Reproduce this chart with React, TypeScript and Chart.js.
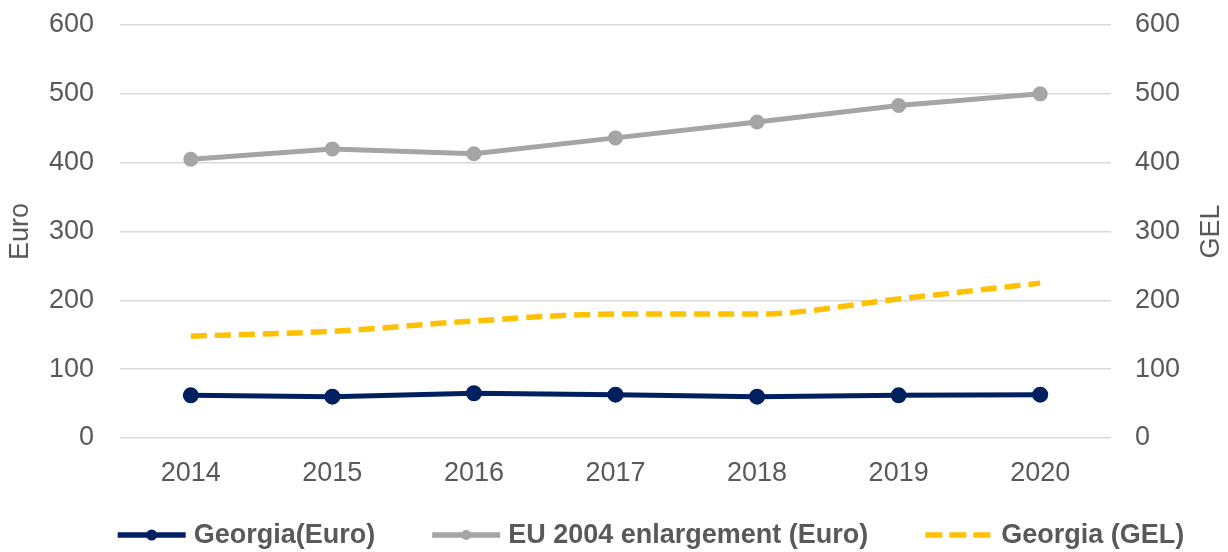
import React, { useEffect, useRef } from 'react';
import { Chart, registerables } from 'chart.js';

Chart.register(...registerables);

const categories = ['2014', '2015', '2016', '2017', '2018', '2019', '2020'];
const georgiaEuro = [62, 60, 65, 63, 60, 62, 63];
const euEnlargement = [405, 420, 413, 436, 459, 483, 500];
const georgiaGel = [148, 155, 170, 180, 180, 202, 225];
const seriesLabels = ['Georgia(Euro)', 'EU 2004 enlargement (Euro)', 'Georgia (GEL)'];
const leftTitle = 'Euro';
const rightTitle = 'GEL';

const TEXT = '#595959';
const FONT = '"Liberation Sans", Arial, sans-serif';

const customPlugin = {
  id: 'customDecor',
  afterDraw(chart: any) {
    const ctx = chart.ctx as CanvasRenderingContext2D;
    const area = chart.chartArea;
    ctx.save();
    ctx.fillStyle = TEXT;
    ctx.font = `27px ${FONT}`;
    ctx.textAlign = 'center';
    ctx.textBaseline = 'middle';
    ctx.translate(1212, (area.top + area.bottom) / 2);
    ctx.rotate(-Math.PI / 2);
    ctx.fillText(rightTitle, 0, 0);
    ctx.restore();

    // legend
    ctx.save();
    ctx.font = `bold 27px ${FONT}`;
    const lineLen = 68;
    const textGap = 8;
    const itemGap = 57;
    const widths = chart.data.datasets.map((d: any) => ctx.measureText(d.label).width);
    let total = 0;
    widths.forEach((w: number, i: number) => {
      total += lineLen + textGap + w + (i < widths.length - 1 ? itemGap : 0);
    });
    let x = 651 - total / 2;
    const y = 535;
    chart.data.datasets.forEach((d: any, i: number) => {
      ctx.save();
      ctx.strokeStyle = d.borderColor;
      ctx.lineWidth = 5.5;
      ctx.setLineDash(d.borderDash ? [17, 7] : []);
      ctx.beginPath();
      ctx.moveTo(x, y);
      ctx.lineTo(x + lineLen, y);
      ctx.stroke();
      ctx.setLineDash([]);
      if (d.pointRadius > 0) {
        ctx.fillStyle = d.pointBackgroundColor;
        ctx.beginPath();
        ctx.arc(x + lineLen / 2, y, d.pointRadius, 0, Math.PI * 2);
        ctx.fill();
      }
      ctx.restore();
      ctx.fillStyle = TEXT;
      ctx.textAlign = 'left';
      ctx.textBaseline = 'middle';
      ctx.fillText(d.label, x + lineLen + textGap, y + 1);
      x += lineLen + textGap + widths[i] + itemGap;
    });
    ctx.restore();
  },
};

export default function App() {
  const ref = useRef<HTMLCanvasElement>(null);
  useEffect(() => {
    if (!ref.current) return;
    const chart = new Chart(ref.current, {
      type: 'line',
      data: {
        labels: categories,
        datasets: [
          {
            label: seriesLabels[0],
            data: georgiaEuro,
            yAxisID: 'y',
            borderColor: '#002060',
            backgroundColor: '#002060',
            pointBackgroundColor: '#002060',
            pointBorderColor: '#002060',
            borderWidth: 5,
            pointRadius: 5.5,
            tension: 0,
          },
          {
            label: seriesLabels[1],
            data: euEnlargement,
            yAxisID: 'y',
            borderColor: '#A5A5A5',
            backgroundColor: '#A5A5A5',
            pointBackgroundColor: '#A5A5A5',
            pointBorderColor: '#A5A5A5',
            borderWidth: 5,
            pointRadius: 5,
            tension: 0,
          },
          {
            label: seriesLabels[2],
            data: georgiaGel,
            yAxisID: 'y1',
            borderColor: '#FFC000',
            backgroundColor: '#FFC000',
            borderWidth: 5.5,
            borderDash: [16, 8],
            pointRadius: 0,
            cubicInterpolationMode: 'monotone',
          },
        ],
      },
      options: {
        animation: false,
        responsive: false,
        devicePixelRatio: 1,
        layout: { padding: { top: 25, left: 0, right: 0, bottom: 0 } },
        plugins: {
          legend: { display: false },
          tooltip: { enabled: false },
        },
        scales: {
          x: {
            offset: true,
            grid: { display: false, drawTicks: false },
            border: { display: false },
            ticks: { color: TEXT, font: { family: FONT, size: 27 }, padding: 19, maxRotation: 0 },
            afterFit: (s: any) => { s.height = 114; },
          },
          y: {
            position: 'left',
            min: 0,
            max: 600,
            ticks: { stepSize: 100, color: TEXT, font: { family: FONT, size: 27 }, padding: 26 },
            grid: { color: '#D9D9D9', lineWidth: 1.5, drawTicks: false },
            border: { display: false },
            title: { display: true, text: leftTitle, color: TEXT, font: { family: FONT, size: 27 }, padding: 4 },
            afterFit: (s: any) => { s.width = 120; s.paddingTop = 0; s.paddingBottom = 0; },
          },
          y1: {
            position: 'right',
            min: 0,
            max: 600,
            ticks: { stepSize: 100, color: TEXT, font: { family: FONT, size: 27 }, padding: 24 },
            grid: { display: false, drawTicks: false },
            border: { display: false },
            afterFit: (s: any) => { s.width = 117; s.paddingTop = 0; s.paddingBottom = 0; },
          },
        },
      },
      plugins: [customPlugin],
    } as any);
    return () => chart.destroy();
  }, []);
  return (
    <div style={{ position: 'fixed', left: 0, top: 0, width: 1228, height: 552, background: '#fff' }}>
      <canvas ref={ref} width={1228} height={552} />
    </div>
  );
}
